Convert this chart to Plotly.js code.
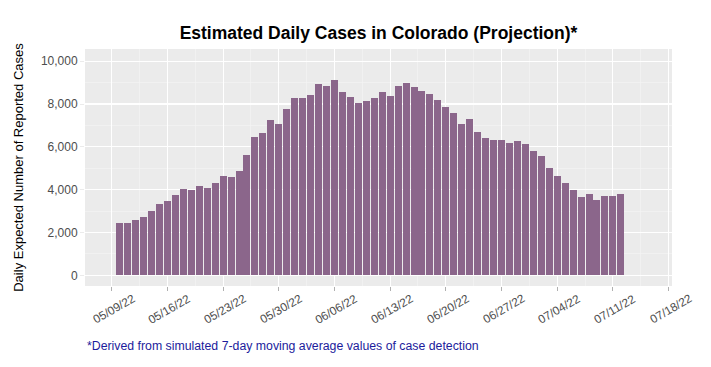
<!DOCTYPE html>
<html>
<head>
<meta charset="utf-8">
<script src="https://cdn.plot.ly/plotly-3.0.1.min.js"></script>
<style>html,body{margin:0;padding:0;background:#fff;}#chart{width:711px;height:367px;}</style>
</head>
<body>
<div id="chart"></div>
<script>
const startDate = "2022-05-10";
const cases = [2457, 2457, 2566, 2737, 3017, 3313, 3468, 3764, 4028, 3997,
  4152, 4090, 4292, 4635, 4572, 4883, 5630, 6439, 6656, 7247,
  7061, 7761, 8274, 8274, 8414, 8958, 8834, 9114, 8569, 8336,
  8056, 8134, 8274, 8569, 8398, 8849, 8989, 8787, 8616, 8460,
  8180, 7869, 7589, 7061, 7294, 6687, 6392, 6314, 6314, 6159,
  6267, 6112, 5817, 5583, 5008, 4635, 4292, 3981, 3670, 3795,
  3530, 3717, 3701, 3795];
const tickDates = ["2022-05-09","2022-05-16","2022-05-23","2022-05-30","2022-06-06","2022-06-13","2022-06-20","2022-06-27","2022-07-04","2022-07-11","2022-07-18"];
const tickLabels = ["05/09/22","05/16/22","05/23/22","05/30/22","06/06/22","06/13/22","06/20/22","06/27/22","07/04/22","07/11/22","07/18/22"];
const yTicks = [0, 2000, 4000, 6000, 8000, 10000];
const yLabels = ["0", "2,000", "4,000", "6,000", "8,000", "10,000"];
const titleText = "Estimated Daily Cases in Colorado (Projection)*";
const yTitle = "Daily Expected Number of Reported Cases";
const footnote = "*Derived from simulated 7-day moving average values of case detection";

const DAY = 86400000;
const t0 = new Date(startDate + "T00:00:00Z").getTime();
const dates = cases.map((_, i) => new Date(t0 + i * DAY).toISOString().slice(0, 10));

const trace = {
  type: "bar",
  x: dates,
  y: cases,
  width: 0.88 * DAY,
  marker: {color: "#8B668B", line: {width: 0}},
  hoverinfo: "x+y"
};

const tickAnnotations = tickDates.map((d, i) => ({
  text: tickLabels[i],
  xref: "x", yref: "paper",
  x: d, y: 0,
  xshift: 2, yshift: -23,
  xanchor: "center", yanchor: "middle",
  textangle: -30,
  showarrow: false,
  font: {size: 11.8, color: "#4D4D4D"}
}));

const layout = {
  width: 711, height: 367,
  margin: {l: 85, r: 39, t: 49, b: 81},
  paper_bgcolor: "#ffffff",
  plot_bgcolor: "#EBEBEB",
  font: {family: "Liberation Sans, Arial, sans-serif", color: "#4D4D4D"},
  showlegend: false,
  bargap: 0,
  title: {
    text: "<b>" + titleText + "</b>",
    font: {size: 17.5, color: "#000000", family: "Liberation Sans, Arial, sans-serif"},
    x: 0.5, xref: "paper", xanchor: "center",
    y: 0.91, yref: "container", yanchor: "middle"
  },
  xaxis: {
    type: "date",
    range: ["2022-05-05 15:22", "2022-07-18 10:20"],
    tickvals: tickDates,
    ticktext: tickLabels,
    showticklabels: false,
    ticks: "outside", ticklen: 4, tickcolor: "#B0B0B0", tickwidth: 1,
    showgrid: true, gridcolor: "#FFFFFF", gridwidth: 1.1,
    minor: {dtick: 7 * DAY, tick0: "2022-05-12 12:00", showgrid: true, gridcolor: "#F5F5F5", gridwidth: 0.6, ticks: ""},
    zeroline: false, showline: false, fixedrange: true
  },
  yaxis: {
    range: [-500, 10570],
    tickvals: yTicks,
    ticktext: yLabels,
    tickfont: {size: 12, color: "#4D4D4D"},
    ticks: "outside", ticklen: 4, tickcolor: "#EBEBEB", tickwidth: 1,
    showgrid: true, gridcolor: "#FFFFFF", gridwidth: 1.1,
    minor: {tickvals: [1000, 3000, 5000, 7000, 9000], showgrid: true, gridcolor: "#F5F5F5", gridwidth: 0.6, ticks: ""},
    zeroline: false, showline: false, fixedrange: true,
    title: {text: yTitle, font: {size: 13, color: "#000000"}, standoff: 14}
  },
  annotations: tickAnnotations.concat([{
    text: footnote,
    xref: "paper", yref: "paper",
    x: 0, y: -0.255,
    xanchor: "left", yanchor: "middle",
    showarrow: false,
    font: {size: 12.3, color: "#1C1C9C"}
  }])
};

Plotly.newPlot("chart", [trace], layout, {displayModeBar: false, staticPlot: true});
</script>
</body>
</html>
